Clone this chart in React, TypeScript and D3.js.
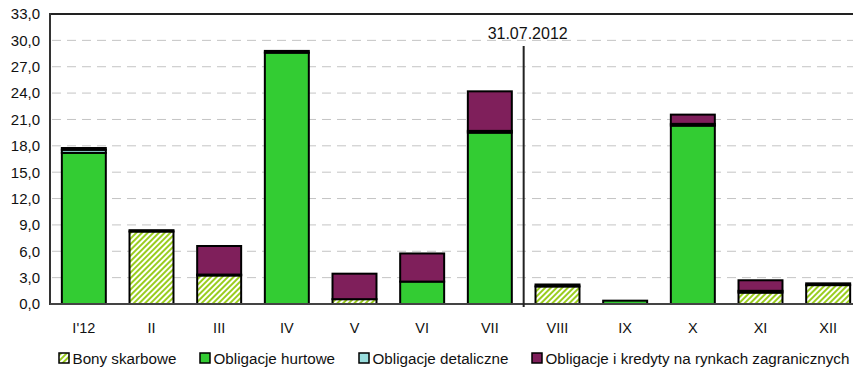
import React from "react";
import * as d3 from "d3";

// Monthly values (bn PLN), stacked in this order from the bottom up
const months = ["I'12", "II", "III", "IV", "V", "VI", "VII", "VIII", "IX", "X", "XI", "XII"];
const bony = [0, 8.25, 3.25, 0, 0.55, 0, 0, 2.0, 0, 0, 1.3, 2.15];
const hurtowe = [17.2, 0.15, 0.1, 28.6, 0, 2.55, 19.5, 0.22, 0.38, 20.3, 0.2, 0.2];
const detaliczne = [0.35, 0, 0, 0, 0, 0, 0.2, 0, 0, 0.2, 0, 0];
const zagraniczne = [0.2, 0, 3.25, 0.2, 2.9, 3.2, 4.5, 0, 0, 1.05, 1.2, 0];

const seriesKeys = ["bony", "hurtowe", "detaliczne", "zagraniczne"];
const seriesNames = [
  "Bony skarbowe",
  "Obligacje hurtowe",
  "Obligacje detaliczne",
  "Obligacje i kredyty na rynkach zagranicznych",
];
const yTicks = [0, 3, 6, 9, 12, 15, 18, 21, 24, 27, 30, 33];
const markerMonth = "VII";
const markerLabel = "31.07.2012";

const W = 853;
const H = 370;
const left = 50;
const right = 862;
const top = 14;
const bottom = 304;
const FONT = "'Liberation Sans', Arial, sans-serif";

const fills: Record<string, string> = {
  bony: "url(#hatch)",
  hurtowe: "#33cc33",
  detaliczne: "#99dddd",
  zagraniczne: "#7f1f5b",
};

const legendX = [59, 200, 359, 532];

export default function App() {
  const rows = months.map((m, i) => ({
    month: m,
    bony: bony[i],
    hurtowe: hurtowe[i],
    detaliczne: detaliczne[i],
    zagraniczne: zagraniczne[i],
  }));
  const stacked = d3.stack<any>().keys(seriesKeys)(rows);

  const x = d3
    .scaleBand<string>()
    .domain(months)
    .range([left, right])
    .paddingInner(0.35)
    .paddingOuter(0.175);
  const y = d3.scaleLinear().domain([0, 33]).range([bottom, top]);

  const markerX = (x(markerMonth) as number) + x.bandwidth() + (x.step() - x.bandwidth()) / 2;

  return (
    <svg
      width={W}
      height={H}
      style={{ position: "absolute", left: 0, top: 0, background: "#fff" }}
      fontFamily={FONT}
    >
      <defs>
        <pattern
          id="hatch"
          patternUnits="userSpaceOnUse"
          width={4}
          height={4}
          patternTransform="rotate(45)"
        >
          <rect width={4} height={4} fill="#ffffff" />
          <rect width={2} height={4} fill="#9acd1e" />
        </pattern>
      </defs>

      {/* dashed horizontal gridlines */}
      {yTicks
        .filter((t) => t > 0 && t < 33)
        .map((t) => (
          <line
            key={t}
            x1={left + 2}
            x2={W}
            y1={y(t)}
            y2={y(t)}
            stroke="#c4c4c4"
            strokeWidth={1}
            strokeDasharray="9,6"
          />
        ))}

      {/* stacked bars */}
      {stacked.map((layer) => (
        <g key={layer.key}>
          {layer.map((d: any, i: number) => {
            const h = y(d[0]) - y(d[1]);
            if (h <= 0) return null;
            return (
              <rect
                key={i}
                x={x(d.data.month)}
                y={y(d[1])}
                width={x.bandwidth()}
                height={h}
                fill={fills[layer.key]}
                stroke="#000"
                strokeWidth={2}
              />
            );
          })}
        </g>
      ))}

      {/* plot frame */}
      <line x1={left} x2={W} y1={top} y2={top} stroke="#222" strokeWidth={2} />
      <line x1={left} x2={left} y1={top - 1} y2={bottom + 1} stroke="#333" strokeWidth={2} />
      <line x1={left} x2={W} y1={bottom} y2={bottom} stroke="#444" strokeWidth={2} />

      {/* date marker */}
      <line
        x1={markerX}
        x2={markerX}
        y1={46}
        y2={bottom + 3}
        stroke="#222"
        strokeWidth={2}
      />
      <text x={markerX + 4} y={39} fontSize={16} textAnchor="middle" fill="#111">
        {markerLabel}
      </text>

      {/* y axis labels */}
      {yTicks.map((t) => (
        <text
          key={t}
          x={40}
          y={y(t)}
          dy="0.36em"
          fontSize={15}
          textAnchor="end"
          fill="#111"
        >
          {t.toFixed(1).replace(".", ",")}
        </text>
      ))}

      {/* x axis labels */}
      {months.map((m) => (
        <text
          key={m}
          x={(x(m) as number) + x.bandwidth() / 2}
          y={333}
          fontSize={14.5}
          textAnchor="middle"
          fill="#111"
        >
          {m}
        </text>
      ))}

      {/* legend */}
      {seriesKeys.map((k, i) => (
        <g key={k}>
          <rect
            x={legendX[i]}
            y={353}
            width={10}
            height={10}
            fill={fills[k]}
            stroke="#000"
            strokeWidth={1.5}
          />
          <text x={legendX[i] + 13.5} y={364} fontSize={15.2} fill="#111">
            {seriesNames[i]}
          </text>
        </g>
      ))}
    </svg>
  );
}
